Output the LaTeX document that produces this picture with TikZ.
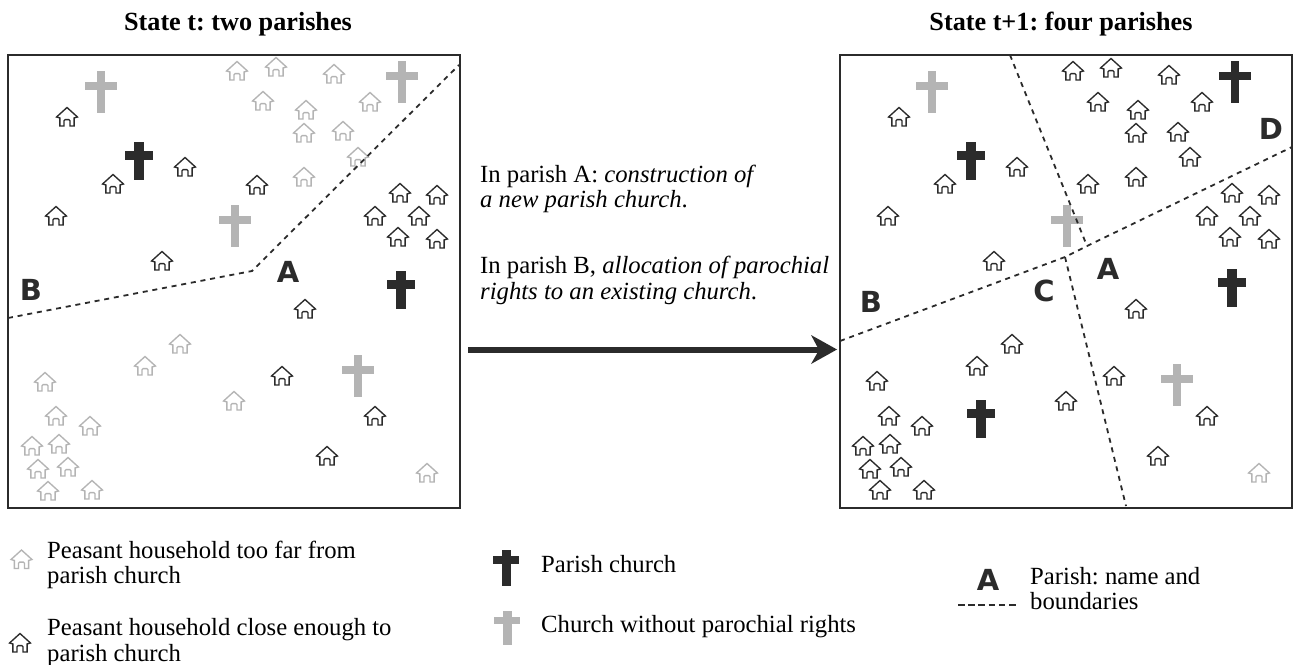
\documentclass[tikz,border=0pt]{standalone}
\usepackage{fontspec}
\setmainfont{Liberation Serif}
\newfontfamily\labelfont{DejaVu Sans}
\definecolor{ink}{HTML}{2B2B2B}
\definecolor{pale}{HTML}{B4B4B4}
\frenchspacing
\tikzset{
  x=1pt,y=-1pt,
  housepic/.pic={
    \draw[line width=1.35pt,line join=miter,pic actions,fill=none]
      (0,-10)--(11,0)--(7.5,1)--(7.5,9.5)--(3.2,9.5)--(3.2,4)--(2,2.8)--(-2,2.8)--(-3.2,4)--(-3.2,9.5)--(-7.5,9.5)--(-7.5,1)--(-11,0)--cycle;
  },
  bigcross/.pic={
    \fill[pic actions] (-4.3,-21)rectangle(4.3,21);
    \fill[pic actions] (-16,-10)rectangle(16,-2);
  },
  smallcross/.pic={
    \fill[pic actions] (-4.7,-19)rectangle(4.7,19);
    \fill[pic actions] (-14,-10)rectangle(14,-1.5);
  },
  legendcross/.pic={
    \fill[pic actions] (-4.5,-18)rectangle(4.5,18);
    \fill[pic actions] (-13,-12)rectangle(13,-4);
  },
  panel/.style={draw=ink,line width=1.6pt,minimum width=452pt,minimum height=453pt,inner sep=0pt,outer sep=0pt,anchor=north west},
  boundary/.style={ink,line width=1.8pt,dash pattern=on 5pt off 4.8pt},
  keyline/.style={ink,line width=1.2pt,dash pattern=on 6.5pt off 3.7pt},
  heading/.style={font=\bfseries\fontsize{26.2}{28}\selectfont,text=black,inner sep=0pt},
  bodytext/.style={font=\fontsize{24.7}{25.3}\selectfont,text=black,inner sep=0pt,anchor=west,align=left},
  letter/.style={font=\labelfont\bfseries\fontsize{29}{30}\selectfont,text=ink,inner sep=0pt},
}
\begin{document}
\begin{tikzpicture}
\useasboundingbox (0,0) rectangle (1293,664);
\fill[white] (0,0) rectangle (1293,664);
\node[panel] (left) at (8,55) {};
\node[panel] (right) at (840,55) {};
\node[heading] (tl) at (238,24.5) {State t: two parishes};
\node[heading] (tr) at (1061,24.5) {State t+1: four parishes};
% left houses
\foreach \x/\y in {237/71,276/67,334/74,263/101,306/110,370/102,304/133,343/131,358/157,304/177,180/344,145/366,45/382,234/401,56/416,90/426,32/446,59/444,38/469,68/467,48/491,92/490,427/473}
  \pic[draw=pale,scale=.95] at (\x,\y) {housepic};
\foreach \x/\y in {67/117,185/167,113/184,257/185,56/216,162/261,400/193,437/195,375/216,419/216,398/237,437/239,305/309,282/376,375/416,327/456}
  \pic[draw=ink,scale=.95] at (\x,\y) {housepic};
% right houses
\foreach \x/\y in {1073/71,1111/68,1169/75,1098/102,1138/110,1202/102,1136/133,1178/132,1190/157,1136/177,899/117,1017/167,945/184,1088/184,888/216,994/261,1232/193,1269/195,1207/216,1250/216,1230/237,1269/239,1136/309,1114/376,1207/416,1158/456,1012/344,977/366,877/381,1066/401,889/416,922/426,863/446,890/444,870/469,901/467,880/490,924/490}
  \pic[draw=ink,scale=.95] at (\x,\y) {housepic};
\pic[draw=pale,scale=.95] at (1259,473) {housepic};
% crosses
\foreach \x/\y in {101/92,402/82,235/226,358/376,932/92,1067/226,1177/385}
  \pic[fill=pale] at (\x,\y) {bigcross};
\foreach \x/\y in {139/161,401/290,971/161,1232/288,981/419}
  \pic[fill=ink] at (\x,\y) {smallcross};
\pic[fill=ink] at (1235,82) {bigcross};
% left boundaries
\coordinate (l1) at (8,318); \coordinate (l2) at (252,271); \coordinate (l3) at (459,65);
\draw[boundary] (l1)--(l2)--(l3);
% right boundaries
\coordinate (r1) at (840,341); \coordinate (r1b) at (1065,257); \coordinate (r1c) at (1087,246); \coordinate (r2) at (1292,147);
\coordinate (r3) at (1010,55); \coordinate (r5) at (1126,506);
\draw[boundary] (r1)--(r1b)--(r1c)--(r2);
\draw[boundary] (r3)--(r1c);
\draw[boundary] (r1b)--(r5);
% letters
\node[letter] (lb) at (31,290) {B};
\node[letter] (la) at (288,272) {A};
\node[letter] (rb) at (871,302) {B};
\node[letter] (rc) at (1044,291) {C};
\node[letter] (ra) at (1108,269) {A};
\node[letter] (rd) at (1271,129) {D};
% middle text
\node[bodytext] (t1) at (480,189) {In parish A: \textit{construction of}\\\textit{a new parish church}.};
\node[bodytext] (t2) at (480,280.5) {In parish B, \textit{allocation of parochial}\\\textit{rights to an existing church}.};
% arrow
\coordinate (astart) at (468,350);
\coordinate (aend) at (837,349.5);
\draw[ink,line width=5.2pt] (astart)--(820,350);
\fill[ink] (aend)--(811,335)--(819,350)--(811,364)--cycle;
% legend
\pic[draw=pale,scale=.95] at (21.5,559.5) {housepic};
\node[bodytext] (k1) at (47,565) {Peasant household too far from\\parish church};
\pic[draw=ink,scale=.95] at (20,643) {housepic};
\node[bodytext] (k2) at (47,642.5) {Peasant household close enough to\\parish church};
\pic[fill=ink] at (506,568) {legendcross};
\node[bodytext] (k3) at (541,564) {Parish church};
\pic[fill=pale,yscale=.92] at (507,628) {legendcross};
\node[bodytext] (k4) at (541,627) {Church without parochial rights};
\node[letter] (k5) at (988,580) {A};
\coordinate (d1) at (958,605); \coordinate (d2) at (1016,605);
\draw[keyline] (d1)--(d2);
\node[bodytext] (k6) at (1030,588.5) {Parish: name and\\boundaries};
\end{tikzpicture}
\end{document}
